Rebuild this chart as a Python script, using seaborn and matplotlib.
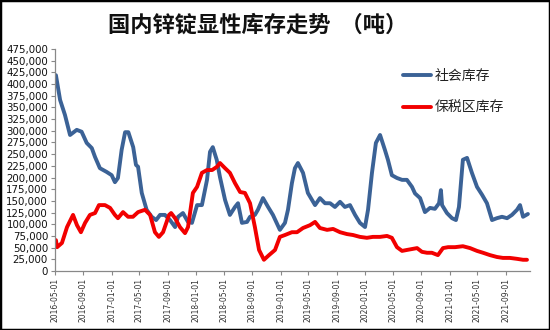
import pandas as pd
import numpy as np
import matplotlib
matplotlib.use("Agg")
import matplotlib.pyplot as plt
import matplotlib.dates as mdates
from matplotlib.ticker import MultipleLocator, FuncFormatter
from matplotlib.patches import Rectangle
from matplotlib.lines import Line2D
import seaborn as sns

title = "国内锌锭显性库存走势  （吨）"
series_names = ["社会库存", "保税区库存"]

social_dates = [
    "2016-05-05", "2016-05-23", "2016-06-13", "2016-07-05", "2016-08-03", "2016-08-24",
    "2016-09-15", "2016-10-07", "2016-10-21", "2016-11-11", "2016-12-10", "2017-01-01",
    "2017-01-15", "2017-01-28", "2017-02-13", "2017-02-28", "2017-03-14", "2017-04-04",
    "2017-04-16", "2017-04-25", "2017-05-11", "2017-06-01", "2017-06-23", "2017-07-12",
    "2017-07-29", "2017-08-19", "2017-09-10", "2017-10-02", "2017-10-15", "2017-11-05",
    "2017-11-27", "2017-12-14", "2018-01-05", "2018-01-26", "2018-02-17", "2018-03-02",
    "2018-03-14", "2018-03-31", "2018-04-14", "2018-05-06", "2018-05-27", "2018-06-18",
    "2018-07-01", "2018-07-18", "2018-08-09", "2018-08-22", "2018-09-12", "2018-09-25",
    "2018-10-17", "2018-11-08", "2018-11-29", "2018-12-29", "2019-01-20", "2019-02-02",
    "2019-02-19", "2019-03-04", "2019-03-17", "2019-04-08", "2019-04-29", "2019-05-30",
    "2019-06-20", "2019-07-12", "2019-08-03", "2019-08-24", "2019-09-15", "2019-10-06",
    "2019-10-28", "2019-11-19", "2019-12-10", "2020-01-01", "2020-01-14", "2020-01-31",
    "2020-02-17", "2020-03-06", "2020-03-27", "2020-04-09", "2020-04-26", "2020-05-18",
    "2020-06-09", "2020-06-30", "2020-07-22", "2020-08-04", "2020-08-26", "2020-09-16",
    "2020-10-08", "2020-10-29", "2020-11-16", "2020-11-24", "2020-11-29", "2020-12-20",
    "2021-01-11", "2021-01-28", "2021-02-10", "2021-02-27", "2021-03-17", "2021-04-07",
    "2021-04-29", "2021-05-21", "2021-06-11", "2021-07-03", "2021-07-24", "2021-08-15",
    "2021-09-06", "2021-09-27", "2021-10-19", "2021-11-01", "2021-11-14", "2021-12-05",
]
social_values = [
    419, 366, 334, 291, 302, 298,
    274, 263, 244, 220, 212, 205,
    190, 199, 259, 297, 297, 265,
    227, 223, 167, 131, 116, 109,
    120, 120, 109, 94, 116, 124,
    105, 103, 141, 141, 195, 255,
    265, 238, 201, 152, 120, 137,
    145, 103, 105, 116, 120, 131,
    156, 137, 120, 88, 103, 131,
    188, 220, 231, 210, 167, 141,
    156, 145, 145, 137, 148, 137,
    141, 120, 103, 94, 131, 210,
    274, 291, 259, 238, 205, 199,
    195, 195, 180, 166, 156, 126,
    135, 133, 145, 173, 141, 124,
    113, 109, 137, 238, 242, 210,
    180, 163, 145, 109, 113, 116,
    113, 120, 131, 141, 116, 122,
]

bonded_dates = [
    "2016-05-05", "2016-05-10", "2016-05-31", "2016-06-22", "2016-07-18", "2016-08-04",
    "2016-08-21", "2016-09-08", "2016-09-29", "2016-10-21", "2016-11-07", "2016-12-03",
    "2016-12-25", "2017-01-15", "2017-01-28", "2017-02-19", "2017-03-13", "2017-04-03",
    "2017-04-25", "2017-05-25", "2017-06-16", "2017-07-07", "2017-07-24", "2017-08-11",
    "2017-09-06", "2017-09-15", "2017-10-02", "2017-10-23", "2017-11-14", "2017-11-27",
    "2017-12-18", "2018-01-05", "2018-01-26", "2018-02-17", "2018-03-11", "2018-04-01",
    "2018-04-14", "2018-05-06", "2018-05-27", "2018-06-18", "2018-07-10", "2018-07-31",
    "2018-08-22", "2018-09-12", "2018-09-30", "2018-10-21", "2018-11-12", "2018-12-08",
    "2018-12-29", "2019-01-20", "2019-02-19", "2019-03-13", "2019-04-08", "2019-05-08",
    "2019-05-30", "2019-06-20", "2019-07-21", "2019-08-16", "2019-09-15", "2019-10-15",
    "2019-11-10", "2019-12-10", "2020-01-09", "2020-02-04", "2020-03-06", "2020-04-05",
    "2020-04-26", "2020-05-18", "2020-06-09", "2020-06-30", "2020-07-22", "2020-08-13",
    "2020-09-03", "2020-09-25", "2020-10-16", "2020-11-11", "2020-12-03", "2020-12-25",
    "2021-01-24", "2021-02-27", "2021-03-30", "2021-04-29", "2021-05-25", "2021-06-24",
    "2021-07-24", "2021-08-19", "2021-09-18", "2021-10-19", "2021-11-14", "2021-12-01",
]
bonded_values = [
    66, 51, 60, 94, 120, 98,
    83, 103, 120, 124, 141, 141,
    135, 120, 113, 126, 116, 116,
    126, 131, 120, 83, 73, 83,
    120, 124, 113, 94, 81, 94,
    167, 180, 210, 216, 216, 223,
    231, 220, 210, 188, 169, 167,
    145, 94, 45, 24, 34, 45,
    73, 77, 83, 83, 92, 98,
    105, 92, 88, 90, 83, 79,
    77, 73, 71, 73, 73, 75,
    71, 51, 43, 45, 47, 49,
    41, 39, 39, 34, 49, 51,
    51, 53, 49, 43, 39, 34,
    30, 28, 28, 26, 24, 24,
]

blue = "#3B6296"
red = "#F20000"

df = pd.concat([
    pd.DataFrame({"date": pd.to_datetime(social_dates),
                  "value": np.array(social_values) * 1000,
                  "series": series_names[0]}),
    pd.DataFrame({"date": pd.to_datetime(bonded_dates),
                  "value": np.array(bonded_values) * 1000,
                  "series": series_names[1]}),
])

sns.set_theme(style="white")
plt.rcParams['font.family'] = ['DejaVu Sans', 'Noto Sans CJK SC']

fig = plt.figure(figsize=(5.5, 3.3), dpi=100)
ax = fig.add_axes([0.1, 0.1788, 0.8636, 0.6727])

sns.lineplot(data=df, x="date", y="value", hue="series",
             palette={series_names[0]: blue, series_names[1]: red},
             linewidth=2.8, ax=ax, legend=False, estimator=None)

ax.set_xlim(pd.Timestamp("2016-05-01"), pd.Timestamp("2021-12-14"))
ax.set_ylim(0, 475000)
ax.yaxis.set_major_locator(MultipleLocator(25000))
ax.yaxis.set_major_formatter(FuncFormatter(lambda v, p: f"{int(v):,}"))
ax.xaxis.set_major_locator(mdates.MonthLocator(bymonth=[1, 5, 9], bymonthday=1))
ax.xaxis.set_major_formatter(mdates.DateFormatter("%Y-%m-%d"))
ax.set_xlabel("")
ax.set_ylabel("")

for lab in ax.get_xticklabels():
    lab.set_rotation(90)
    lab.set_fontsize(5.5)
    lab.set_color("#333333")
for lab in ax.get_yticklabels():
    lab.set_fontsize(7.4)
    lab.set_color("#111111")

ax.tick_params(axis="both", which="major", length=3, width=0.8, color="#888888",
               direction="out", pad=2, left=True, bottom=True)
for s in ["top", "right"]:
    ax.spines[s].set_visible(False)
for s in ["left", "bottom"]:
    ax.spines[s].set_color("#888888")
    ax.spines[s].set_linewidth(0.9)

fig.text(0.468, 0.924, title, ha="center", va="center", fontsize=16,
         family=["Noto Sans CJK SC", "DejaVu Sans"], fontweight="bold", color="#111111")

handles = [Line2D([0], [0], color=blue, lw=2.8), Line2D([0], [0], color=red, lw=2.8)]
leg = fig.legend(handles, series_names, loc="upper left", bbox_to_anchor=(0.71, 0.83),
                 frameon=False, prop={"family": ["Noto Sans CJK SC"], "size": 10},
                 handlelength=2.0, handletextpad=0.25, labelspacing=1.35)
for t in leg.get_texts():
    t.set_color("#222222")

fig.patches.append(Rectangle((0, 0), 1, 1, transform=fig.transFigure, fill=False,
                             edgecolor="black", linewidth=2.5))

fig.savefig("out.png", dpi=100)
